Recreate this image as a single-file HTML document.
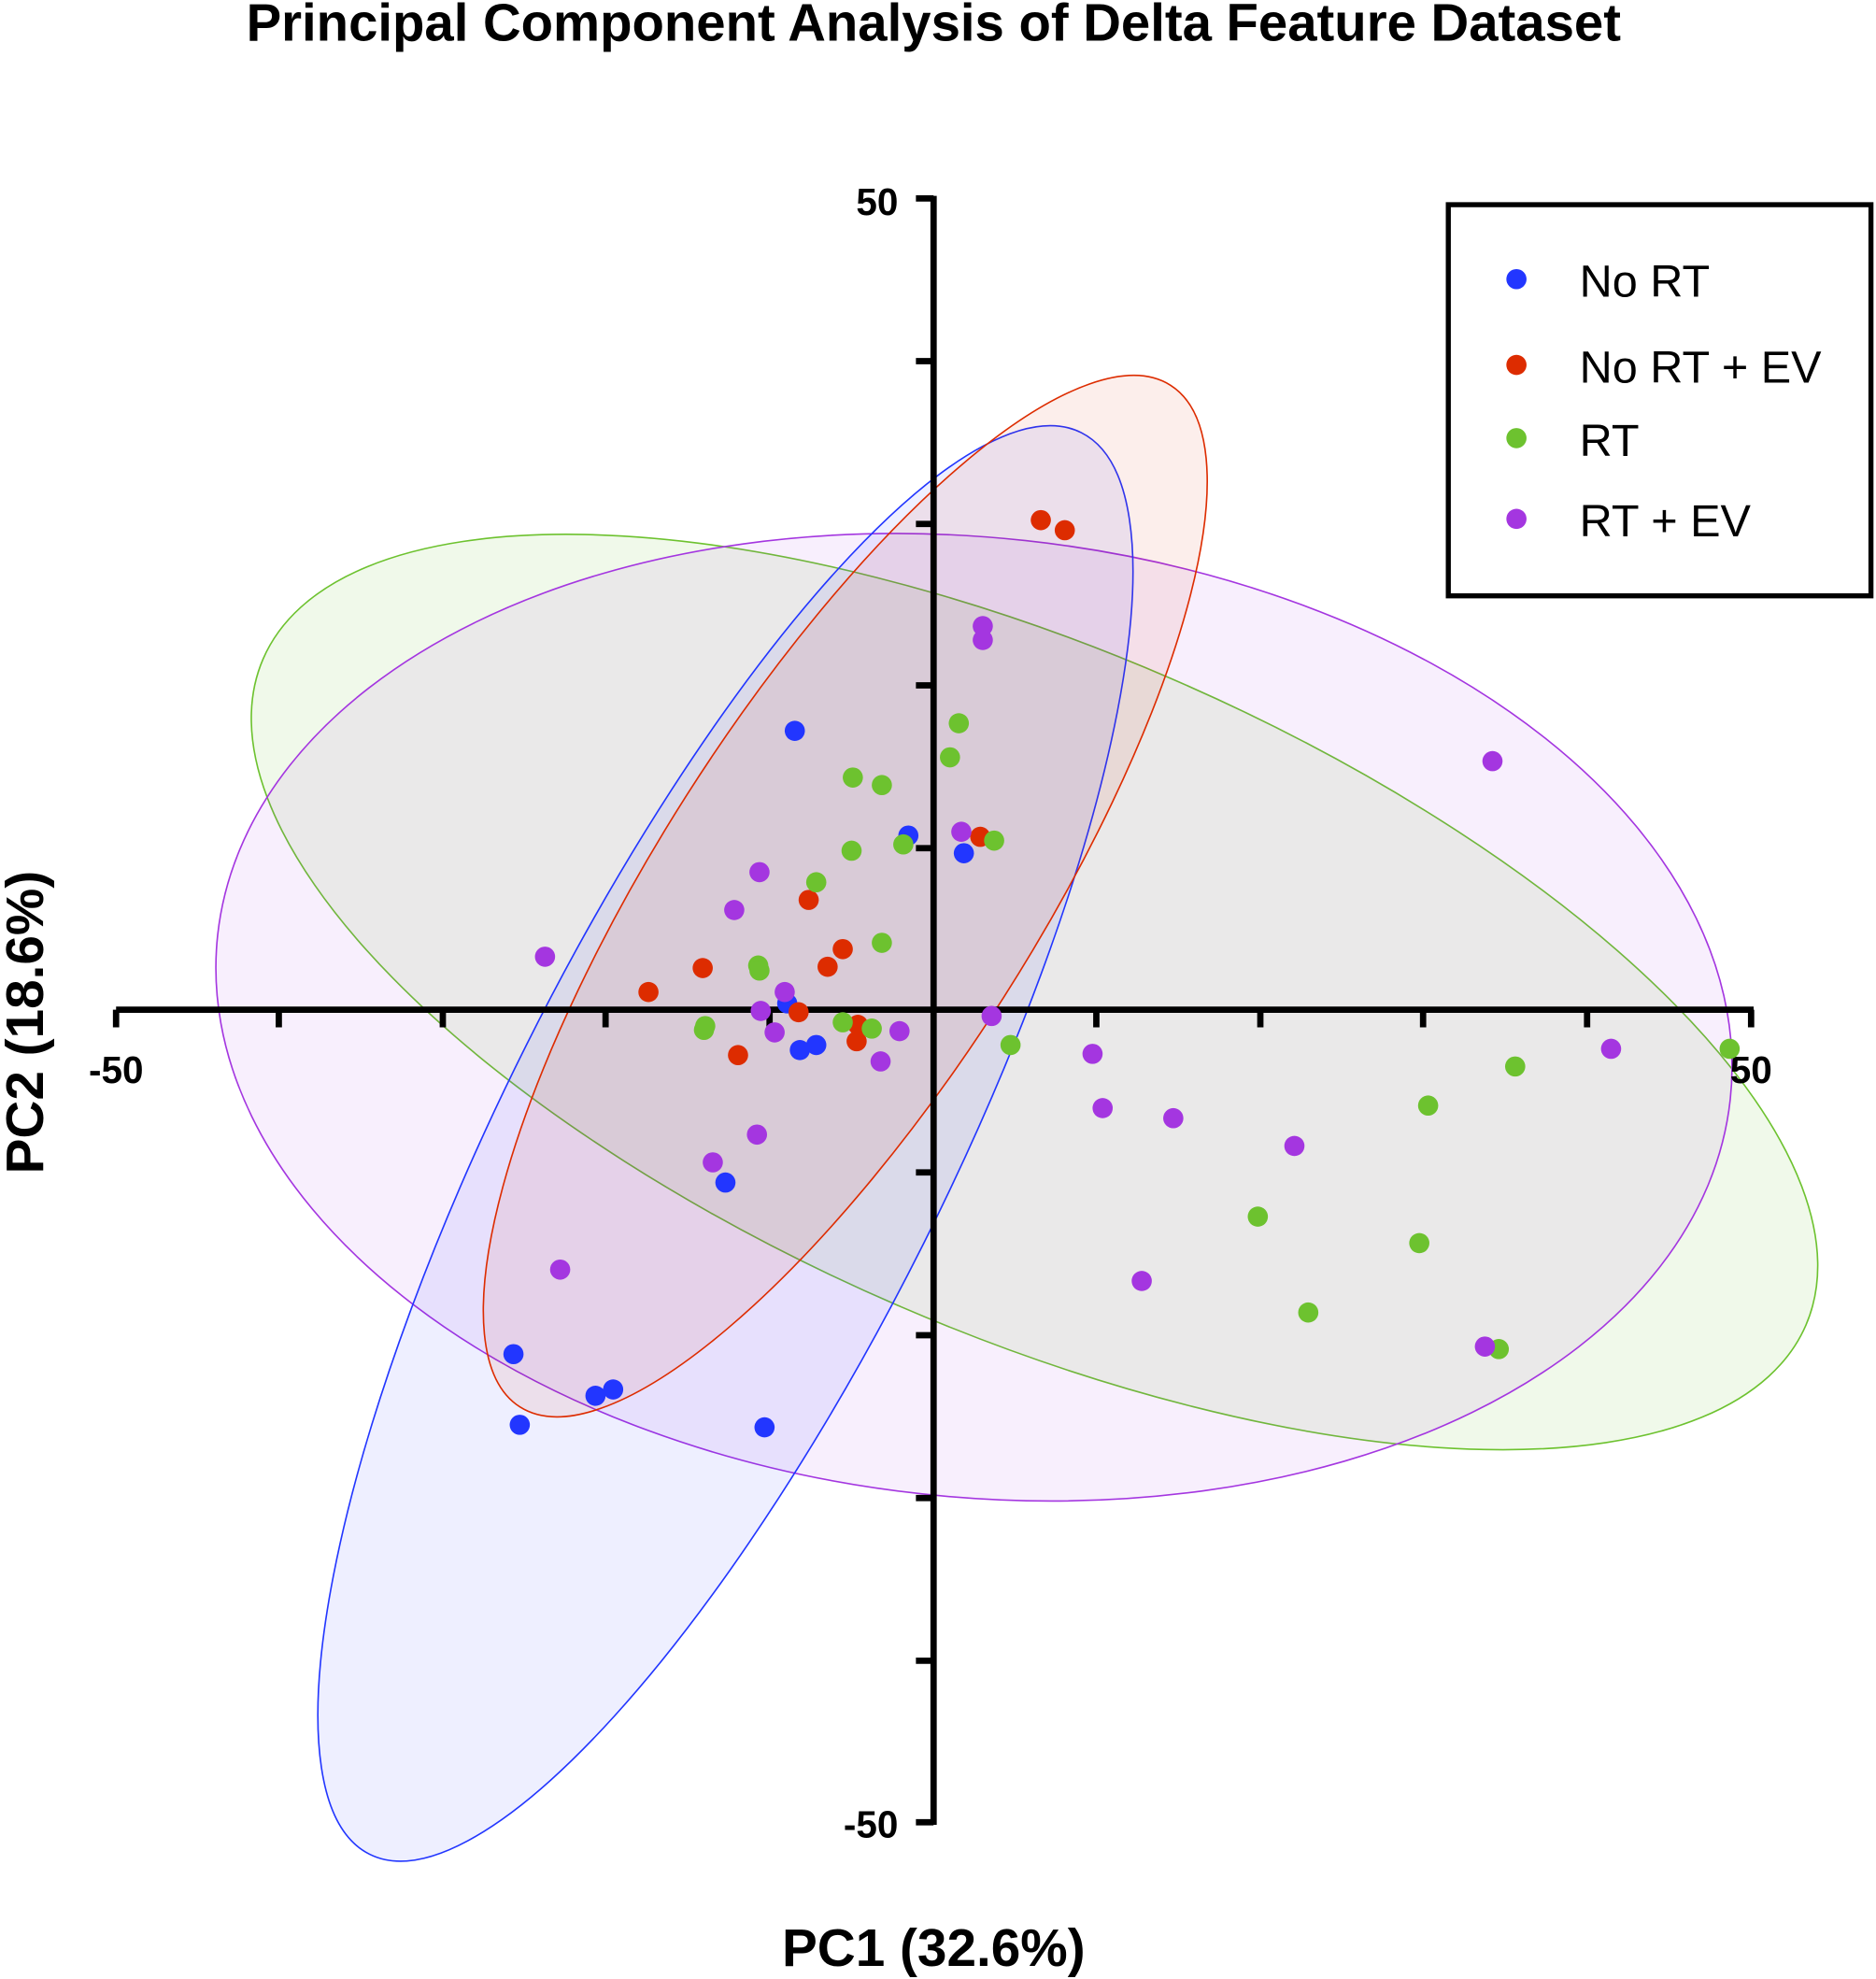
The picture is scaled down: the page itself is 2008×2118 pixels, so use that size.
<!DOCTYPE html>
<html><head><meta charset="utf-8"><style>html,body{margin:0;padding:0;background:#fff}svg{display:block}</style></head>
<body>
<svg width="2008" height="2118" viewBox="0 0 1487 1568" xmlns="http://www.w3.org/2000/svg" font-family="Liberation Sans, sans-serif">
<rect width="1487" height="1568" fill="#fff"/>
<text x="740" y="32" text-anchor="middle" font-size="41.7" font-weight="bold">Principal Component Analysis of Delta Feature Dataset</text>
<g stroke-width="1.2">
<ellipse cx="820" cy="786" rx="666" ry="271" transform="rotate(23.35 820 786)" fill="#6dc22f" fill-opacity="0.1" stroke="#6dc22f"/>
<ellipse cx="772" cy="806" rx="603" ry="380" transform="rotate(6.2 772 806)" fill="#a436e0" fill-opacity="0.08" stroke="#a436e0"/>
<ellipse cx="575" cy="906" rx="630" ry="176" transform="rotate(-63.4 575 906)" fill="#2236ff" fill-opacity="0.08" stroke="#2236ff"/>
<ellipse cx="670" cy="710" rx="480" ry="149" transform="rotate(-57.5 670 710)" fill="#dd2c00" fill-opacity="0.08" stroke="#dd2c00"/>
</g>
<g stroke="#000" stroke-width="5" fill="none">
<line x1="92" y1="800" x2="1390" y2="800"/>
<line x1="740" y1="155" x2="740" y2="1446"/>
<path d="M92 800v14M221 800v14M351 800v14M480 800v14M610 800v14M869 800v14M999 800v14M1128 800v14M1258 800v14M1388 800v14"/>
<path d="M726 157h14M726 286h14M726 415h14M726 543h14M726 672h14M726 929h14M726 1058h14M726 1187h14M726 1316h14M726 1444h14"/>
</g>
<g font-size="30" font-weight="bold">
<text x="712" y="170" text-anchor="end">50</text>
<text x="712" y="1456" text-anchor="end">-50</text>
<text x="92" y="858" text-anchor="middle">-50</text>
<text x="1388" y="858" text-anchor="middle">50</text>
</g>
<text x="740" y="1558" text-anchor="middle" font-size="42" font-weight="bold">PC1 (32.6%)</text>
<text transform="translate(34 810) rotate(-90)" text-anchor="middle" font-size="42" font-weight="bold">PC2 (18.6%)</text>
<g fill="#2236ff">
<circle cx="630" cy="579" r="8"/><circle cx="720" cy="662" r="8"/><circle cx="764" cy="676" r="8"/><circle cx="624" cy="795" r="8"/><circle cx="634" cy="832" r="8"/><circle cx="647" cy="828" r="8"/><circle cx="575" cy="937" r="8"/><circle cx="407" cy="1073" r="8"/><circle cx="412" cy="1129" r="8"/><circle cx="472" cy="1106" r="8"/><circle cx="486" cy="1101" r="8"/><circle cx="606" cy="1131" r="8"/>
</g>
<g fill="#dd2c00">
<circle cx="825" cy="412" r="8"/><circle cx="844" cy="420" r="8"/><circle cx="777" cy="663" r="8"/><circle cx="641" cy="713" r="8"/><circle cx="668" cy="752" r="8"/><circle cx="656" cy="766" r="8"/><circle cx="557" cy="767" r="8"/><circle cx="514" cy="786" r="8"/><circle cx="633" cy="802" r="8"/><circle cx="680" cy="812" r="8"/><circle cx="679" cy="825" r="8"/><circle cx="585" cy="836" r="8"/>
</g>
<g fill="#6dc22f">
<circle cx="760" cy="573" r="8"/><circle cx="753" cy="600" r="8"/><circle cx="676" cy="616" r="8"/><circle cx="699" cy="622" r="8"/><circle cx="675" cy="674" r="8"/><circle cx="716" cy="669" r="8"/><circle cx="788" cy="666" r="8"/><circle cx="647" cy="699" r="8"/><circle cx="699" cy="747" r="8"/><circle cx="601" cy="765" r="8"/><circle cx="602" cy="769" r="8"/><circle cx="559" cy="813" r="8"/><circle cx="558" cy="816" r="8"/><circle cx="668" cy="810" r="8"/><circle cx="691" cy="815" r="8"/><circle cx="801" cy="828" r="8"/><circle cx="1371" cy="831" r="8"/><circle cx="1201" cy="845" r="8"/><circle cx="1132" cy="876" r="8"/><circle cx="997" cy="964" r="8"/><circle cx="1125" cy="985" r="8"/><circle cx="1037" cy="1040" r="8"/><circle cx="1188" cy="1069" r="8"/>
</g>
<g fill="#a436e0">
<circle cx="779" cy="496" r="8"/><circle cx="779" cy="507" r="8"/><circle cx="1183" cy="603" r="8"/><circle cx="762" cy="659" r="8"/><circle cx="602" cy="691" r="8"/><circle cx="582" cy="721" r="8"/><circle cx="432" cy="758" r="8"/><circle cx="622" cy="786" r="8"/><circle cx="603" cy="801" r="8"/><circle cx="614" cy="818" r="8"/><circle cx="786" cy="805" r="8"/><circle cx="713" cy="817" r="8"/><circle cx="698" cy="841" r="8"/><circle cx="866" cy="835" r="8"/><circle cx="874" cy="878" r="8"/><circle cx="930" cy="886" r="8"/><circle cx="1026" cy="908" r="8"/><circle cx="600" cy="899" r="8"/><circle cx="565" cy="921" r="8"/><circle cx="444" cy="1006" r="8"/><circle cx="905" cy="1015" r="8"/><circle cx="1177" cy="1067" r="8"/><circle cx="1277" cy="831" r="8"/>
</g>
<rect x="1148" y="162" width="335" height="310" fill="#fff" stroke="#000" stroke-width="4"/>
<g font-size="36">
<circle cx="1202" cy="221" r="8" fill="#2236ff"/><text x="1252" y="235">No RT</text>
<circle cx="1202" cy="289" r="8" fill="#dd2c00"/><text x="1252" y="303">No RT + EV</text>
<circle cx="1202" cy="347" r="8" fill="#6dc22f"/><text x="1252" y="361">RT</text>
<circle cx="1202" cy="411" r="8" fill="#a436e0"/><text x="1252" y="425">RT + EV</text>
</g>
</svg>
</body></html>
